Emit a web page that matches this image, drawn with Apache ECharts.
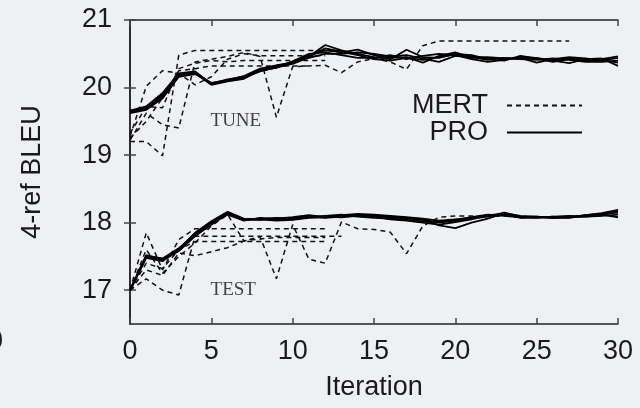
<!DOCTYPE html>
<html>
<head>
<meta charset="utf-8">
<script src="https://cdn.jsdelivr.net/npm/echarts@6/dist/echarts.min.js"></script>
<style>
html,body{margin:0;padding:0;background:#eef0f3;}
#chart{width:640px;height:408px;}
</style>
</head>
<body>
<div id="chart"></div>
<script>
// ---- data ----
const iterationTicks = [0, 5, 10, 15, 20, 25, 30];
const bleuTicks = [17, 18, 19, 20, 21];

// PRO runs, tuning set (iterations 0..30)
const proTune1 = [19.64,19.70,19.88,20.19,20.22,20.05,20.10,20.14,20.25,20.30,20.37,20.46,20.63,20.55,20.50,20.45,20.42,20.56,20.45,20.44,20.50,20.48,20.42,20.40,20.47,20.43,20.38,20.42,20.40,20.41,20.37];
const proTune2 = [19.63,19.68,19.86,20.17,20.23,20.06,20.12,20.16,20.27,20.32,20.38,20.48,20.55,20.52,20.56,20.48,20.44,20.45,20.37,20.47,20.52,20.44,20.45,20.43,20.44,20.37,20.42,20.45,20.43,20.40,20.44];
const proTune3 = [19.65,19.71,19.90,20.20,20.21,20.04,20.09,20.13,20.26,20.29,20.39,20.50,20.52,20.48,20.44,20.44,20.48,20.42,20.47,20.50,20.48,20.42,20.38,20.41,20.45,20.44,20.40,20.36,20.42,20.43,20.32];
const proTune4 = [19.62,19.67,19.84,20.16,20.20,20.07,20.11,20.17,20.28,20.33,20.36,20.44,20.50,20.50,20.52,20.50,20.46,20.48,20.43,20.38,20.47,20.45,20.41,20.44,20.42,20.41,20.43,20.41,20.38,20.38,20.40];
const proTune5 = [19.66,19.72,19.92,20.21,20.24,20.05,20.10,20.15,20.24,20.30,20.35,20.45,20.58,20.53,20.48,20.42,20.40,20.44,20.41,20.45,20.49,20.46,20.44,20.42,20.43,20.42,20.41,20.44,20.41,20.42,20.46];

// MERT runs, tuning set
const mertTune1 = [19.20,19.20,18.99,20.48,20.55,20.55,20.55,20.55,20.55,20.55,20.55,20.55,20.55];
const mertTune2 = [19.27,20.02,20.25,20.21,20.04,20.16,20.42,20.50,20.47,20.47,20.47,20.47,20.47];
const mertTune3 = [19.22,19.62,19.45,19.40,20.38,20.42,20.46,20.52,20.46,19.56,20.31,20.32,20.33,20.22,20.38,20.43,20.38,20.27,20.62,20.69,20.69,20.69,20.69,20.69,20.69,20.69,20.69,20.69];
const mertTune4 = [19.32,19.72,19.70,20.28,20.36,20.40,20.38,20.40,20.40,20.40,20.40,20.40,20.40];
const mertTune5 = [19.25,19.50,19.85,20.25,20.28,20.32,20.32,20.32,20.32,20.32,20.32,20.32];

// PRO runs, test set
const proTest1 = [17.00,17.52,17.46,17.60,17.84,18.00,18.15,18.05,18.04,18.06,18.05,18.10,18.07,18.09,18.12,18.10,18.08,18.06,18.05,17.96,17.92,18.00,18.06,18.14,18.10,18.09,18.07,18.08,18.11,18.14,18.19];
const proTest2 = [17.00,17.49,17.44,17.58,17.80,17.98,18.12,18.03,18.07,18.05,18.07,18.08,18.10,18.12,18.09,18.07,18.06,18.04,18.02,18.01,18.04,18.08,18.12,18.10,18.08,18.07,18.09,18.10,18.09,18.10,18.12];
const proTest3 = [17.00,17.51,17.47,17.62,17.83,18.01,18.13,18.04,18.05,18.03,18.04,18.07,18.08,18.10,18.11,18.11,18.09,18.07,18.04,18.00,18.03,18.06,18.09,18.15,18.09,18.08,18.08,18.09,18.10,18.12,18.08];
const proTest4 = [17.00,17.50,17.45,17.59,17.81,17.97,18.14,18.05,18.06,18.07,18.06,18.09,18.09,18.08,18.10,18.09,18.05,18.03,18.00,17.97,18.01,18.05,18.11,18.13,18.07,18.08,18.08,18.07,18.11,18.13,18.15];
const proTest5 = [17.00,17.48,17.43,17.61,17.85,18.02,18.16,18.06,18.05,18.06,18.08,18.11,18.08,18.11,18.13,18.12,18.10,18.08,18.06,18.03,18.05,18.07,18.10,18.12,18.08,18.09,18.07,18.08,18.09,18.11,18.17];

// MERT runs, test set
const mertTest1 = [17.00,17.85,17.30,17.75,17.91,17.91,17.91,17.91,17.91,17.91,17.91,17.91,17.91];
const mertTest2 = [17.00,17.17,17.00,16.93,17.80,17.80,17.80,17.80,17.80,17.80,17.80,17.80,17.80,17.80];
const mertTest3 = [17.00,17.40,17.32,17.60,17.72,17.72,17.72,17.72,17.72,17.72,17.72,17.72,17.72];
const mertTest4 = [17.00,17.30,17.22,17.55,17.51,17.57,17.63,17.73,17.79,17.17,17.97,17.46,17.40,18.01,17.91,17.90,17.86,17.54,17.95,18.08,18.10,18.10,18.09,18.10,18.09,18.08,18.09,18.08];
const mertTest5 = [17.00,17.60,17.25,17.50,17.70,17.95,18.12,17.73,17.76,17.78,17.78,17.78,17.78];

const annotations = [[4.95, 19.5, 'TUNE'], [4.95, 17.0, 'TEST']];

// ---- chart ----
const FONT = '"Liberation Sans", Arial, Helvetica, sans-serif';
const TXT = '#1a1a1a';
const FS = 27;
const toXY = arr => arr.map((v, i) => [i, v]);

const proRuns = [proTune1, proTune2, proTune3, proTune4, proTune5, proTest1, proTest2, proTest3, proTest4, proTest5];
const mertRuns = [mertTune1, mertTune2, mertTune3, mertTune4, mertTune5, mertTest1, mertTest2, mertTest3, mertTest4, mertTest5];

const series = [];
mertRuns.forEach(r => series.push({
  name: 'MERT', type: 'line', data: toXY(r), symbol: 'none', silent: true,
  itemStyle: { color: 'rgba(0,0,0,0)' },
  lineStyle: { color: '#111', width: 1.5, type: [5, 4] }, z: 2
}));
proRuns.forEach(r => series.push({
  name: 'PRO', type: 'line', data: toXY(r), symbol: 'none', silent: true,
  itemStyle: { color: 'rgba(0,0,0,0)' },
  lineStyle: { color: '#000', width: 1.8, type: 'solid' }, z: 3
}));
series.push({
  name: 'notes', type: 'scatter', data: annotations, symbolSize: 0, silent: true,
  label: { show: true, position: 'right', distance: 0, formatter: p => p.data[2],
           fontFamily: '"Liberation Serif", "Times New Roman", serif', fontSize: 19, color: '#111' }
});

const axisLine = { show: true, lineStyle: { color: '#222', width: 1.5 } };
const tickStyle = { inside: true, length: 6, lineStyle: { color: '#444', width: 1.5 } };

const option = {
  backgroundColor: '#eef0f3',
  animation: false,
  grid: { left: 130, right: 22, top: 20, bottom: 84 },
  legend: {
    data: ['MERT', 'PRO'], orient: 'vertical', right: 52, top: 87,
    align: 'right', itemWidth: 75, itemHeight: 14, itemGap: 0,
    itemStyle: { opacity: 0 },
    textStyle: { fontFamily: FONT, fontSize: FS, color: TXT, padding: [0, 14, 0, 0] },
    selectedMode: false
  },
  xAxis: [{
    type: 'value', min: 0, max: 30, interval: 5, position: 'bottom',
    name: 'Iteration', nameLocation: 'middle', nameGap: 50,
    nameTextStyle: { fontFamily: FONT, fontSize: FS, color: TXT },
    axisLine, axisTick: tickStyle, splitLine: { show: false },
    axisLabel: { fontFamily: FONT, fontSize: FS, color: TXT, margin: 14, customValues: iterationTicks }
  }, {
    type: 'value', min: 0, max: 30, interval: 5, position: 'top',
    axisLine, axisTick: tickStyle, splitLine: { show: false }, axisLabel: { show: false }
  }],
  yAxis: [{
    type: 'value', min: 16.5, max: 21, position: 'left',
    name: '4-ref BLEU', nameLocation: 'middle', nameGap: 84, nameRotate: 90,
    nameTextStyle: { fontFamily: FONT, fontSize: FS, color: TXT },
    axisLine, splitLine: { show: false },
    axisTick: Object.assign({ customValues: bleuTicks }, tickStyle),
    axisLabel: { fontFamily: FONT, fontSize: FS, color: TXT, margin: 18, customValues: bleuTicks }
  }, {
    type: 'value', min: 16.5, max: 21, position: 'right',
    axisLine, splitLine: { show: false },
    axisTick: Object.assign({ customValues: bleuTicks }, tickStyle),
    axisLabel: { show: false }
  }],
  graphic: [{
    type: 'text', left: -12, top: 328,
    style: { text: '0', fontFamily: FONT, fontSize: FS, fill: TXT }
  }],
  series
};

const chart = echarts.init(document.getElementById('chart'), null, { renderer: 'canvas' });
chart.setOption(option);
</script>
</body>
</html>
